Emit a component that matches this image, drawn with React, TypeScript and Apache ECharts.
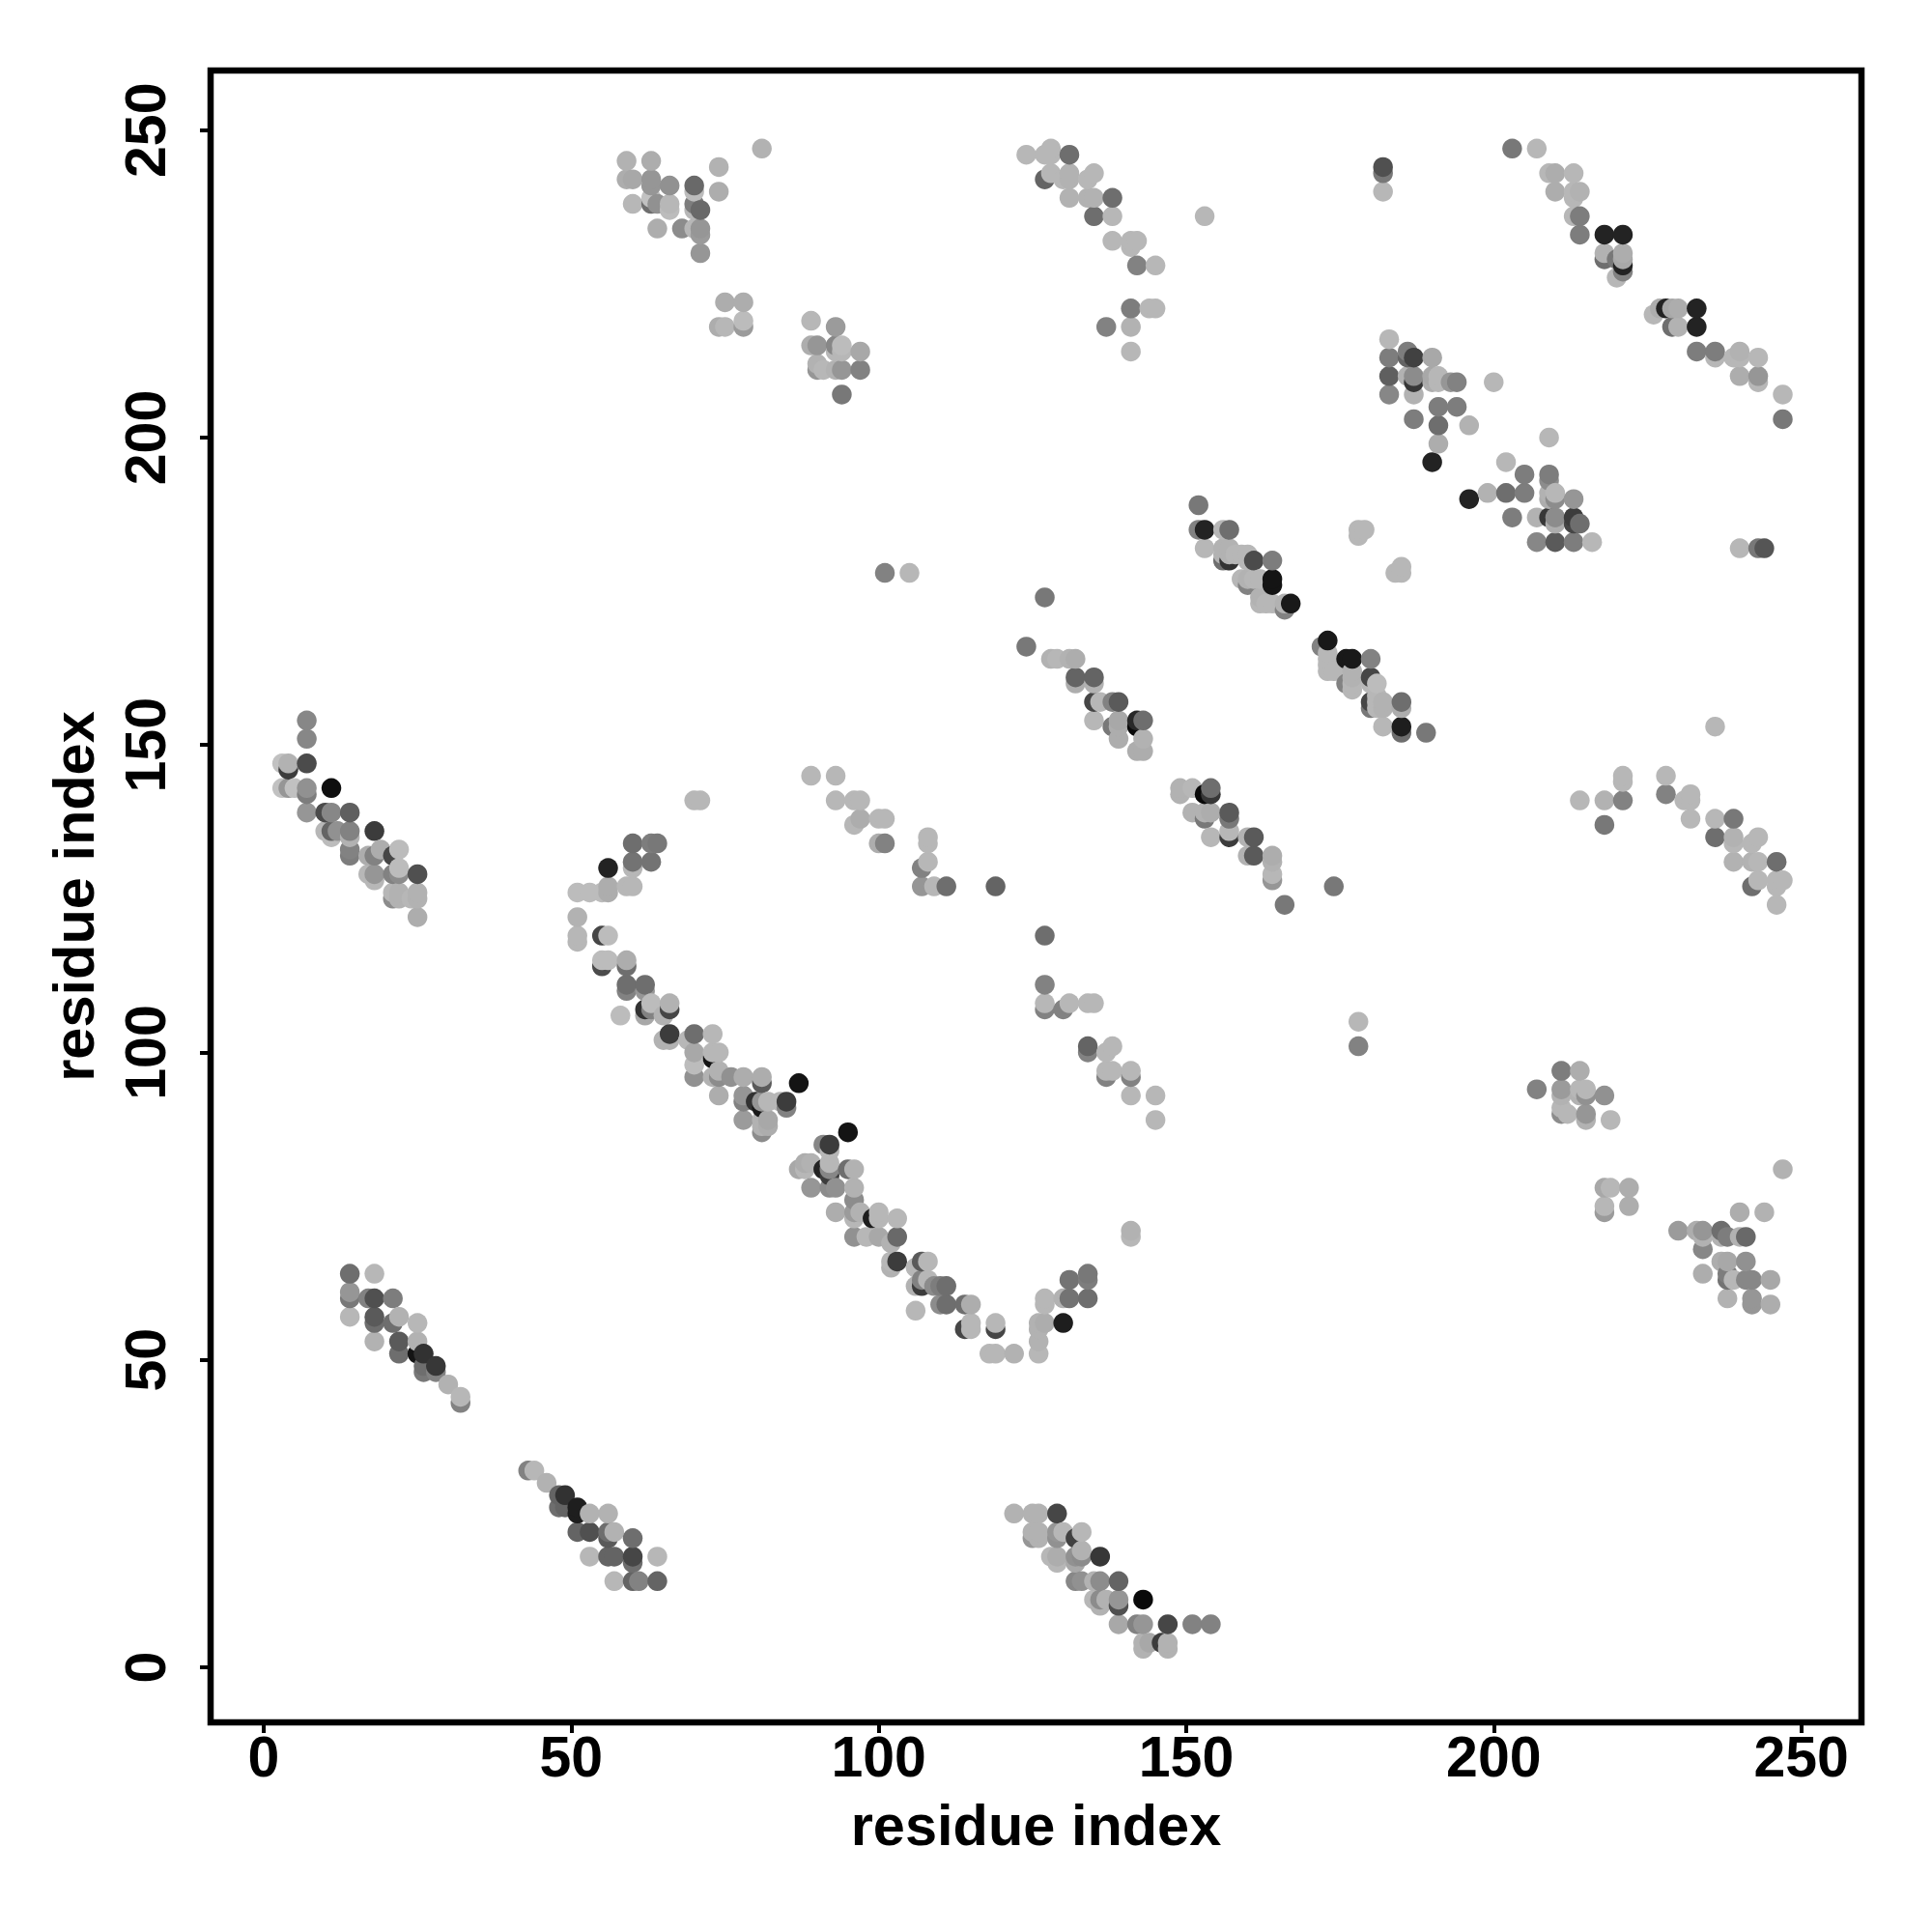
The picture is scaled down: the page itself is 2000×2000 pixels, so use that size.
import React, { useEffect, useRef } from "react";
import * as echarts from "echarts";

type P = [number, number, number];

const tickValues = [0, 50, 100, 150, 200, 250];
const xTitle = "residue index";
const yTitle = "residue index";

const topLeftA: P[] = [[59,245,170],[63,245,165],[59,242,165],[60,242,160],[63,242,150],[63,241,150],[66,241,145],[60,238,175],[63,238,110],[64,238,145],[63,239,185],[66,238,175],[66,237,180],[70,241,105],[70,240,180],[70,238,125],[70,237,175],[71,237,105],[74,244,170],[74,240,165],[81,247,170],[64,234,165],[68,234,140],[70,234,175],[71,234,150],[71,233,155],[71,230,150]];
const topLeftB: P[] = [[75,222,165],[78,222,165],[74,218,165],[75,218,175],[78,218,155],[78,219,180]];
const topLeftC: P[] = [[89,219,175],[93,218,155],[89,215,165],[90,215,150],[93,215,135],[94,215,180],[94,214,175],[93,214,175],[97,214,160],[90,211,150],[90,212,170],[91,211,175],[93,211,170],[94,211,150],[97,211,130],[94,207,120]];
const leftCluster: P[] = [[7,154,135],[7,151,135],[7,147,75],[3,147,185],[4,147,170],[4,146,60],[3,143,185],[4,143,150],[5,143,185],[7,143,145],[7,142,125],[11,143,15],[7,139,150],[10,139,75],[11,139,135],[14,139,95],[10,136,175],[11,135,180],[11,136,100],[12,136,145],[14,136,130],[14,135,170],[14,133,130],[14,132,125],[18,136,60],[17,132,165],[18,132,130],[19,133,165],[21,132,70],[22,133,180],[17,129,175],[18,128,175],[18,129,150],[21,129,130],[22,129,140],[22,130,180],[25,129,80],[21,125,140],[22,126,170],[22,125,170],[21,126,175],[25,126,170],[25,125,170],[24,125,175],[25,122,165]];
const diagonalUpper: P[] = [[60,134,110],[63,134,125],[64,134,120],[60,131,115],[60,130,175],[63,131,115],[56,130,35],[51,126,180],[53,126,180],[55,126,180],[56,126,165],[56,127,165],[59,127,175],[60,127,175],[51,122,170],[51,119,175],[51,118,175],[55,119,70],[56,119,180],[55,114,75],[55,115,180],[56,115,180],[59,114,110],[59,115,165],[59,111,110],[59,110,130],[62,111,110],[62,110,150],[62,107,50],[62,106,160],[63,107,130],[63,108,180],[65,106,170],[66,107,70],[66,108,170],[58,106,180],[66,103,60],[65,102,170],[66,102,170],[69,102,175],[70,103,110],[73,103,175],[70,100,160],[70,98,180],[70,96,145],[73,99,20],[73,100,175],[74,100,175],[73,96,170],[74,97,170],[74,96,140],[76,96,145],[78,96,165],[81,96,165],[81,95,90],[74,93,165],[87,95,20],[78,93,150],[78,92,130],[80,92,50],[81,92,150],[81,91,25],[82,92,175],[84,92,175],[85,92,60],[85,91,130],[78,89,155],[81,89,170],[81,87,140],[82,89,160],[82,88,165],[81,88,170]];
const diagonalLower: P[] = [[95,87,20],[91,85,135],[92,85,60],[92,84,175],[87,81,160],[88,82,165],[89,82,170],[88,81,175],[91,81,35],[92,80,60],[92,81,135],[92,82,175],[95,81,110],[96,81,170],[89,78,150],[92,78,140],[93,78,145],[96,78,170],[96,76,140],[96,74,155],[96,73,175],[97,74,170],[93,74,165],[99,73,30],[100,74,175],[100,73,175],[103,73,175],[96,70,145],[98,70,175],[100,70,160],[102,69,170],[103,70,105],[102,66,175],[102,65,170],[103,66,60],[106,65,175],[107,66,90],[108,66,175],[106,62,170],[107,62,60],[107,63,130],[108,63,175],[109,62,140],[110,62,125],[111,62,110],[106,58,175],[110,59,140],[111,59,110],[114,59,110],[115,59,165],[114,55,70],[115,56,175],[115,55,175],[118,51,175],[119,51,175],[119,55,70],[119,56,175],[122,51,170],[126,51,175],[126,53,170],[126,55,170],[126,56,170],[127,56,165],[127,59,175],[127,60,175],[130,56,30],[130,60,170],[131,60,115],[131,63,115],[134,60,110],[134,63,125],[134,64,120]];
const bottomMiddle: P[] = [[122,25,170],[125,25,170],[126,25,170],[129,25,70],[125,22,170],[125,21,150],[126,22,170],[126,21,170],[129,22,150],[129,21,145],[130,22,175],[132,21,65],[133,22,175],[128,18,175],[129,18,165],[129,17,175],[132,18,145],[132,17,160],[133,18,140],[133,19,170],[136,18,55],[132,14,135],[133,14,145],[135,14,170],[136,14,140],[139,14,100],[135,11,175],[136,10,170],[136,11,140],[137,11,170],[139,10,80],[139,11,150],[143,11,10],[139,7,160],[142,7,130],[143,7,150],[147,7,70],[151,7,130],[154,7,130],[143,4,170],[143,3,170],[144,4,160],[146,4,60],[147,4,170],[147,3,170]];
const bottomLeftA: P[] = [[14,64,110],[18,64,175],[14,61,150],[14,60,120],[17,60,130],[18,60,80],[21,60,125],[14,57,175],[18,57,90],[18,56,110],[21,56,110],[22,57,170],[25,56,175],[25,53,170],[18,53,170],[22,53,90],[22,51,110],[25,51,20],[26,51,50],[26,49,110],[26,48,120],[28,49,55],[28,48,130],[30,46,170],[32,44,175],[32,43,130]];
const bottomLeftB: P[] = [[43,32,130],[44,32,175],[46,30,170],[48,28,100],[49,28,50],[48,26,110],[49,26,100],[51,26,30],[51,25,30],[53,25,170],[56,25,170],[51,22,100],[53,22,80],[56,22,110],[57,22,170],[56,21,90],[60,21,110],[53,18,175],[56,18,100],[57,18,100],[60,18,70],[60,17,110],[64,18,175],[57,14,175],[60,14,100],[61,14,130],[64,14,100]];
const topCentre: P[] = [[124,246,175],[127,246,175],[128,246,175],[128,247,175],[131,246,110],[127,242,100],[128,243,175],[131,243,170],[130,242,175],[131,242,170],[135,243,175],[134,242,175],[131,239,170],[134,239,170],[135,239,170],[138,239,110],[135,236,110],[138,236,175],[138,232,175],[141,232,175],[142,232,175],[141,231,175],[142,228,130],[145,228,175],[141,221,125],[144,221,175],[145,221,175],[137,218,130],[141,218,170],[141,214,175],[153,236,175],[182,244,80],[182,243,120],[182,240,175]];
const topRight: P[] = [[203,247,120],[207,247,175],[209,243,175],[210,243,165],[213,243,175],[210,240,165],[213,240,175],[214,240,170],[213,239,175],[213,236,175],[214,236,125],[214,233,125],[218,233,35],[221,233,35],[218,230,170],[218,229,110],[220,229,120],[221,230,165],[221,229,160],[221,228,35],[221,227,130],[220,226,175],[226,220,175],[227,221,165],[228,221,35],[229,221,160],[230,221,165],[229,218,110],[230,218,170],[233,221,35],[233,218,35],[233,214,125],[236,214,125],[236,213,175],[239,213,175],[240,214,170],[240,213,175],[243,213,175],[240,210,165],[243,210,150],[243,209,175],[247,207,175],[247,203,120]];
const midRight: P[] = [[183,216,175],[183,213,125],[186,214,125],[186,213,100],[187,213,65],[190,213,160],[183,210,95],[186,210,170],[187,210,140],[187,209,55],[190,210,160],[190,209,165],[191,210,175],[191,209,175],[193,209,150],[194,209,130],[200,209,175],[183,207,135],[187,207,170],[191,205,125],[194,205,125],[187,203,125],[191,202,110],[196,202,170],[191,199,165],[190,196,35],[209,200,175],[202,196,175],[205,194,125],[209,194,125],[209,193,140],[196,190,35],[199,191,170],[202,191,110],[205,191,125],[209,191,170],[209,190,165],[210,191,175],[210,190,140],[213,190,150],[203,187,125],[207,187,170],[209,187,55],[210,187,140],[210,186,165],[213,187,60],[213,186,70],[214,186,110],[207,183,135],[210,183,90],[213,183,125],[216,183,175],[240,182,175],[243,182,120],[244,182,85]];
const centreUpper: P[] = [[152,189,120],[152,185,130],[153,185,35],[156,185,175],[157,185,110],[153,182,175],[156,181,170],[156,180,110],[157,180,50],[157,182,170],[156,182,170],[157,181,170],[158,181,175],[159,181,175],[160,181,175],[160,180,175],[161,180,75],[164,180,125],[159,177,175],[160,177,170],[160,176,130],[161,177,175],[162,177,175],[164,177,20],[164,176,20],[162,174,170],[162,173,175],[163,173,175],[164,173,175],[166,173,170],[166,172,130],[167,173,25],[178,185,175],[179,185,175],[178,184,175],[185,179,175],[184,178,175],[185,178,175]];
const centreLower: P[] = [[172,166,130],[173,167,25],[173,165,175],[173,164,175],[173,162,175],[174,162,175],[173,163,175],[176,164,25],[177,164,25],[180,164,130],[176,160,130],[177,162,170],[177,161,170],[177,159,175],[177,160,175],[180,161,70],[180,160,175],[181,160,180],[181,158,175],[180,157,70],[180,156,120],[181,157,175],[181,156,175],[182,157,170],[182,156,170],[185,157,110],[185,156,165],[182,153,175],[185,153,30],[185,152,110],[189,152,120]];
const middleA: P[] = [[124,166,120],[128,164,170],[129,164,175],[131,164,170],[132,164,165],[132,161,100],[132,160,165],[135,161,100],[135,160,170],[135,157,70],[136,157,175],[138,157,130],[139,157,90],[135,154,175],[138,153,120],[139,154,160],[139,153,165],[139,151,165],[142,154,40],[142,153,10],[143,154,110],[143,151,170],[142,149,165],[143,149,165]];
const middleB: P[] = [[149,143,170],[149,142,170],[151,143,175],[153,142,10],[154,142,55],[154,143,110],[151,139,170],[153,138,120],[153,139,170],[154,139,165],[157,139,90],[157,138,120],[157,136,175],[157,135,60],[154,135,175],[160,135,170],[161,135,90],[160,132,170],[161,132,90],[164,132,165],[164,131,170],[164,129,175],[164,128,150],[166,124,120]];
const isolated: P[] = [[101,178,130],[105,178,175],[127,174,120],[119,127,100],[174,127,120],[127,119,110],[70,141,175],[71,141,175],[141,71,170],[141,70,175],[178,105,175],[178,101,130]];
const upperMiddle: P[] = [[89,145,175],[93,145,175],[93,141,175],[96,141,175],[97,141,175],[96,137,175],[97,138,165],[100,138,175],[101,138,175],[100,134,165],[101,134,130],[108,135,175],[108,134,175],[108,131,175],[107,130,130],[107,127,150],[109,127,175],[111,127,110]];
const lowerMiddle: P[] = [[127,111,130],[127,108,175],[127,107,130],[130,107,130],[131,108,175],[134,108,175],[135,108,175],[134,101,100],[134,100,130],[137,100,175],[138,101,175],[137,97,175],[138,97,175],[137,96,130],[141,97,175],[141,96,130],[141,93,175],[145,93,175],[145,89,175]];
const rightUpper: P[] = [[214,141,175],[218,141,170],[221,141,130],[221,145,175],[221,144,175],[218,137,120],[228,145,175],[228,142,130],[231,141,175],[232,141,175],[232,142,175],[236,153,175],[232,138,175],[236,138,175],[239,138,120],[236,135,110],[239,135,170],[239,134,175],[243,135,175],[242,134,175],[239,131,170],[242,131,170],[243,131,175],[246,131,110],[242,127,110],[243,128,175],[246,128,175],[247,128,175],[246,127,175],[246,124,175]];
const rightLower: P[] = [[211,97,125],[214,97,165],[207,94,130],[211,94,155],[211,93,170],[214,94,175],[214,93,170],[215,94,175],[215,93,145],[218,93,145],[211,91,175],[211,90,140],[212,90,175],[215,90,150],[215,89,170],[219,89,175],[218,78,160],[219,78,175],[222,78,165],[218,75,175],[218,74,155],[222,75,165],[247,81,170],[240,74,165],[244,74,170],[230,71,155],[233,71,165],[234,71,150],[234,70,170],[237,71,110],[237,70,170],[238,70,125],[240,70,170],[241,70,105],[234,68,135],[237,66,165],[238,66,160],[241,66,145],[234,64,165],[238,64,125],[238,63,115],[239,63,175],[241,63,135],[242,63,135],[245,63,160],[238,60,170],[242,60,150],[242,59,150],[245,59,165]];

const clusters: P[][] = [topLeftA, topLeftB, topLeftC, leftCluster, diagonalUpper, diagonalLower, bottomMiddle, bottomLeftA, bottomLeftB, topCentre, topRight, midRight, centreUpper, centreLower, middleA, middleB, isolated, upperMiddle, lowerMiddle, rightUpper, rightLower];

export default function App() {
  const ref = useRef<HTMLDivElement>(null);
  useEffect(() => {
    if (!ref.current) return;
    const chart = echarts.init(ref.current, undefined, { renderer: "svg" });
    // The reference paints in residue order: later x, then later y, lies on top.
    const ordered = clusters.flat().slice().sort((a, b) => a[0] - b[0] || a[1] - b[1]);
    const tone = (g: number) => (g >= 160 ? g + 8 : g);
    const font = { fontFamily: "Liberation Sans", fontWeight: "bold" as const, color: "#000" };
    const base = {
      type: "value" as const,
      scale: true,
      splitLine: { show: false },
      axisLine: { show: false, onZero: false },
      axisTick: { show: true, customValues: tickValues, length: 11, lineStyle: { color: "#000", width: 4 } },
      nameLocation: "middle" as const,
      nameTextStyle: { ...font, fontSize: 59.5 },
    };
    chart.setOption({
      animation: false,
      backgroundColor: "#fff",
      grid: { show: true, left: 218, top: 73, width: 1709, height: 1710, borderColor: "#000", borderWidth: 6.5, backgroundColor: "transparent" },
      xAxis: {
        ...base,
        min: -8.64,
        max: 259.8,
        name: xTitle,
        nameGap: 76,
        axisLabel: { ...font, fontSize: 59, customValues: tickValues, margin: 6, hideOverlap: false },
      },
      yAxis: {
        ...base,
        min: -8.96,
        max: 259.7,
        name: yTitle,
        nameGap: 112,
        axisLabel: { ...font, fontSize: 59, customValues: tickValues, margin: 38, rotate: 90, align: "center", verticalAlign: "bottom", hideOverlap: false },
      },
      series: [
        {
          type: "scatter",
          symbol: "circle",
          symbolSize: 20.5,
          clip: false,
          silent: true,
          itemStyle: { opacity: 1 },
          data: ordered.map(([x, y, g]) => ({ value: [x, y], itemStyle: { color: `rgb(${tone(g)},${tone(g)},${tone(g)})`, opacity: 1 } })),
        },
      ],
    });
    return () => chart.dispose();
  }, []);
  return <div ref={ref} style={{ position: "absolute", left: 0, top: 0, width: 2000, height: 2000 }} />;
}
